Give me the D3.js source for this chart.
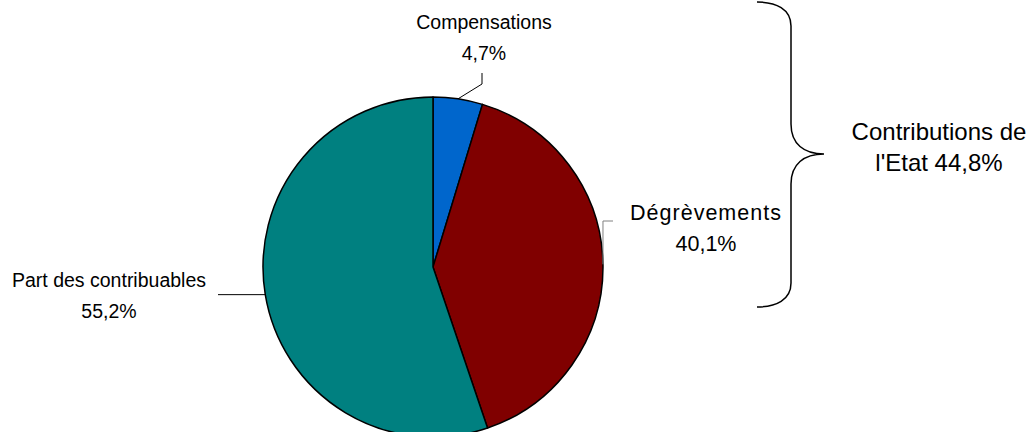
<!DOCTYPE html>
<html>
<head>
<meta charset="utf-8">
<script src="https://cdn.jsdelivr.net/npm/d3@7"></script>
<style>
  html, body { margin: 0; padding: 0; background: #fff; }
  svg { display: block; font-family: "Liberation Sans", Arial, sans-serif; }
</style>
</head>
<body>
<svg id="chart" width="1033" height="432"></svg>
<script>
// Slices, clockwise from 12 o'clock
const categories = ["Compensations", "Dégrèvements", "Part des contribuables"];
const shares = [4.7, 40.1, 55.2];
const sliceColors = ["#0066CC", "#800000", "#008080"];

// State contributions group (first two slices)
const bracedGroup = ["Compensations", "Dégrèvements"];
const bracedTitle = ["Contributions de", "l'Etat"];

const W = 1033, H = 432;
const cx = 433, cy = 267, R = 170;

const fmt = v => d3.format(".1f")(v).replace(".", ",") + "%";

const svg = d3.select("#chart");

const pie = d3.pie().sort(null).value(d => d.value);
const arc = d3.arc().innerRadius(0).outerRadius(R);
const data = categories.map((c, i) => ({ name: c, value: shares[i], color: sliceColors[i] }));
const arcs = pie(data);

const g = svg.append("g").attr("transform", `translate(${cx},${cy})`);

g.selectAll("path.slice")
  .data(arcs)
  .join("path")
  .attr("class", "slice")
  .attr("d", arc)
  .attr("fill", d => d.data.color)
  .attr("stroke", "#000")
  .attr("stroke-width", 1.5)
  .attr("stroke-linejoin", "round");

// Label layout: text anchor, font, and leader route ending on the pie edge point p
const labelLayout = {
  "Compensations":          { x: 484, y: 29, size: 19.5, spacing: 0, line: (p) => [[482, 73], [482, 84], p], stroke: "#000" },
  "Dégrèvements":           { x: 706, y: 220, size: 21.5, spacing: 1, line: (p) => [[613, 221], [p[0], 221], p], stroke: "#808080" },
  "Part des contribuables": { x: 109, y: 287, size: 19.5, spacing: 0, line: (p) => [[218, p[1]], p], stroke: "#000" }
};

const edgePoint = d => {
  const a = (d.startAngle + d.endAngle) / 2;
  return [cx + R * Math.sin(a), cy - R * Math.cos(a)];
};

arcs.forEach(d => {
  const L = labelLayout[d.data.name];
  const p = edgePoint(d);
  svg.append("path")
    .attr("d", d3.line()(L.line(p)))
    .attr("fill", "none")
    .attr("stroke", L.stroke)
    .attr("stroke-width", 1);
  const t = svg.append("text")
    .attr("x", L.x).attr("y", L.y)
    .attr("text-anchor", "middle")
    .attr("font-size", L.size)
    .attr("fill", "#000");
  t.append("tspan").attr("x", L.x).attr("letter-spacing", L.spacing).text(d.data.name);
  t.append("tspan").attr("x", L.x).attr("dy", 31).text(fmt(d.data.value));
});

// Curly brace grouping the state contributions
const brace = d3.path();
brace.moveTo(757, 2);
brace.bezierCurveTo(776, 2, 791, 9, 791, 26);
brace.lineTo(791, 124);
brace.bezierCurveTo(791, 144, 804, 154, 824, 154);
brace.bezierCurveTo(804, 154, 791, 164, 791, 184);
brace.lineTo(791, 283);
brace.bezierCurveTo(791, 300, 776, 307, 757, 307);
svg.append("path")
  .attr("d", brace.toString())
  .attr("fill", "none")
  .attr("stroke", "#000")
  .attr("stroke-width", 1.5);

const groupTotal = d3.sum(data.filter(d => bracedGroup.includes(d.name)), d => d.value);
const bt = svg.append("text")
  .attr("x", 939).attr("y", 140)
  .attr("text-anchor", "middle")
  .attr("font-size", 24)
  .attr("fill", "#000");
bt.append("tspan").attr("x", 939).text(bracedTitle[0]);
bt.append("tspan").attr("x", 939).attr("dy", 31).text(bracedTitle[1] + " " + fmt(groupTotal));
</script>
</body>
</html>
